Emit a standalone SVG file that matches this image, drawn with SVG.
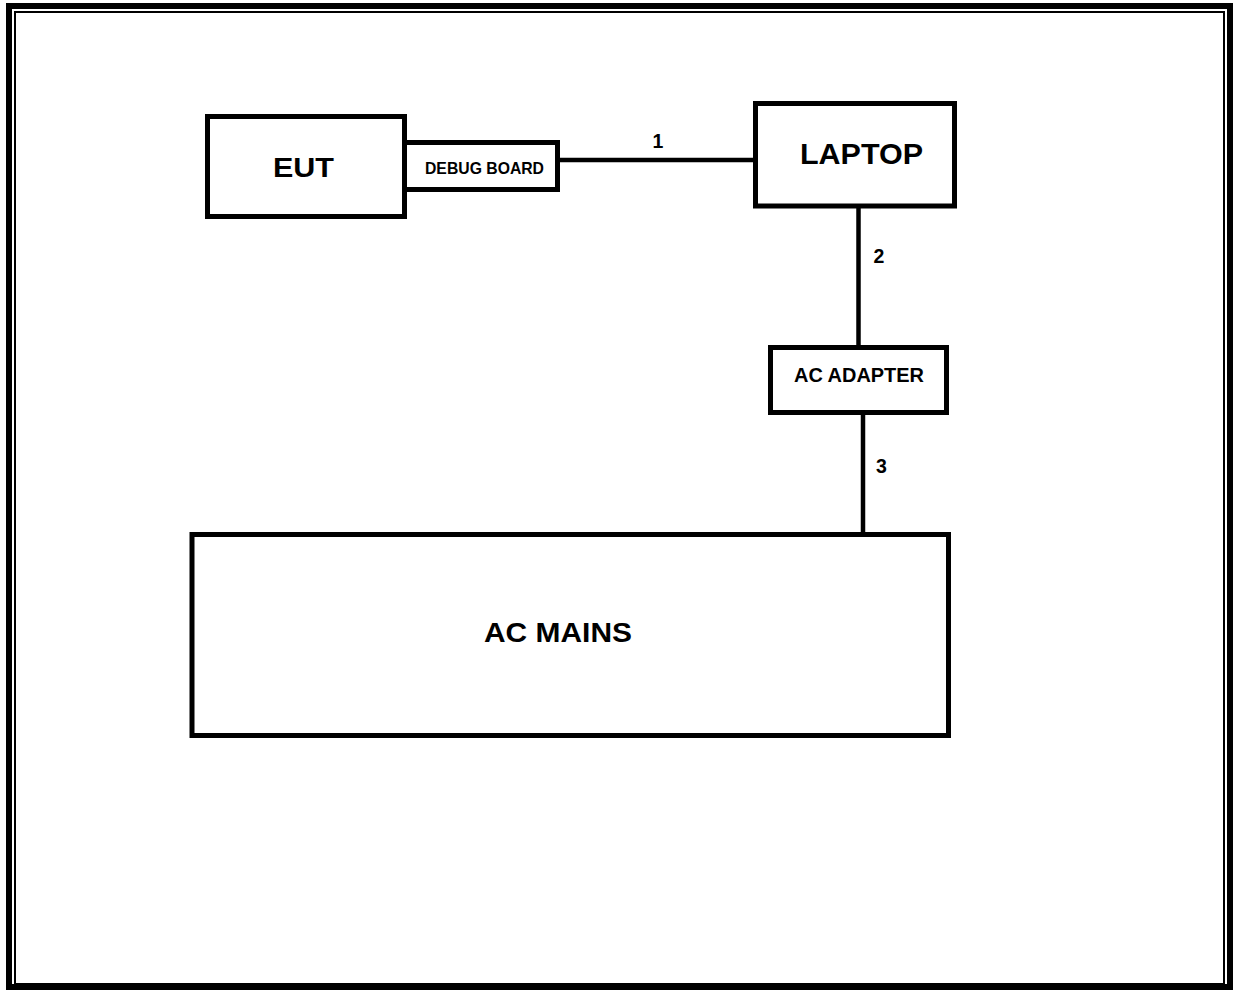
<svg xmlns="http://www.w3.org/2000/svg" width="1233" height="990" viewBox="0 0 1233 990">
<style>
.box{fill:#fff;stroke:#000;stroke-width:5}
.wire{stroke:#000;stroke-width:4.5;fill:none}
text{font-family:"Liberation Sans",Arial,sans-serif;font-weight:bold;fill:#000;text-anchor:middle}
.num{font-size:19.5px}
</style>
<rect width="1233" height="990" fill="#fff"/>
<g id="frame">
<rect x="9" y="6" width="1221" height="981" fill="none" stroke="#000" stroke-width="6"/>
<rect x="15" y="12" width="1209" height="972" fill="none" stroke="#000" stroke-width="2"/>
</g>
<g id="connectors">
<line class="wire" x1="558" y1="160" x2="756" y2="160"/>
<line class="wire" x1="858.5" y1="206" x2="858.5" y2="348"/>
<line class="wire" x1="863" y1="412" x2="863" y2="535"/>
<text class="num" x="658" y="148">1</text>
<text class="num" x="879" y="263">2</text>
<text class="num" x="881.5" y="473">3</text>
</g>
<g id="eut">
<rect class="box" x="207.5" y="116.5" width="197" height="100"/>
<text x="303.5" y="177" font-size="28.5" textLength="61" lengthAdjust="spacingAndGlyphs">EUT</text>
</g>
<g id="debug-board">
<rect class="box" x="404.5" y="142.5" width="153" height="47"/>
<text x="484.5" y="174" font-size="16.5" textLength="119" lengthAdjust="spacingAndGlyphs">DEBUG BOARD</text>
</g>
<g id="laptop">
<rect class="box" x="755.5" y="103.5" width="199" height="102.5"/>
<text x="861.5" y="164" font-size="30" textLength="123" lengthAdjust="spacingAndGlyphs">LAPTOP</text>
</g>
<g id="ac-adapter">
<rect class="box" x="770.5" y="347.5" width="176" height="65"/>
<text x="859" y="382" font-size="20.5" textLength="130" lengthAdjust="spacingAndGlyphs">AC ADAPTER</text>
</g>
<g id="ac-mains">
<rect class="box" x="192" y="534.5" width="756.5" height="201"/>
<text x="558" y="642" font-size="27" textLength="148" lengthAdjust="spacingAndGlyphs">AC MAINS</text>
</g>
</svg>
